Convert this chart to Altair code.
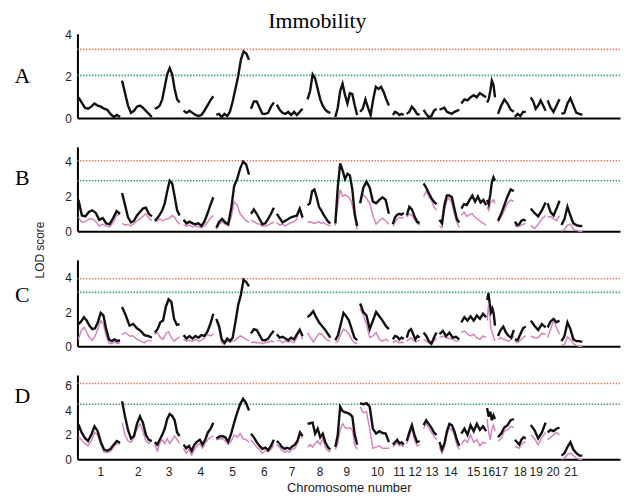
import altair as alt
import pandas as pd
import numpy as np

chrom_names = [str(i) for i in range(1, 22)]
chrom_start = [1, 45, 78, 107, 140, 175, 201, 232, 260, 285, 318, 332, 349, 365, 387, 413, 424, 441, 457, 474, 488]
chrom_end = [43, 75, 103, 137, 173, 198, 227, 255, 282, 314, 329, 345, 362, 385, 412, 421, 440, 452, 472, 486, 509]
chrom_tick = [23, 61, 92, 124, 156, 188, 216, 244, 271, 302, 324, 340, 357, 376, 399, 414, 427, 446, 462, 479, 497]

A_black = [
    [1.0, 0.75, 0.5, 0.45, 0.55, 0.7, 0.6, 0.55, 0.45, 0.4, 0.2, 0.05, 0.15, 0.05],
    [1.8, 1.2, 0.6, 0.25, 0.35, 0.55, 0.6, 0.5, 0.35, 0.2, 0.05],
    [0.45, 0.5, 0.6, 0.9, 1.5, 2.1, 2.4, 2.1, 1.4, 0.9, 0.75],
    [0.35, 0.25, 0.35, 0.25, 0.15, 0.1, 0.15, 0.35, 0.6, 0.85, 1.05],
    [0.15, 0.2, 0.05, 0.2, 0.1, 0.3, 0.8, 1.4, 2.0, 2.8, 3.2, 3.1, 2.8],
    [0.45, 0.8, 0.8, 0.5, 0.2, 0.2, 0.25, 0.55, 0.75],
    [0.65, 0.4, 0.25, 0.2, 0.3, 0.15, 0.3, 0.15, 0.3, 0.45],
    [0.9, 1.3, 2.1, 1.9, 1.4, 0.9, 0.6, 0.4, 0.3, 0.25],
    [0.05, 0.5, 1.3, 1.65, 1.1, 0.7, 1.2, 1.15, 0.6, 0.15],
    [0.3, 0.45, 0.9, 0.5, 0.15, 0.9, 1.5, 1.4, 1.5, 1.25, 0.9, 0.6],
    [0.15, 0.3, 0.25, 0.15, 0.2, 0.15],
    [0.2, 0.3, 0.55, 0.4, 0.2, 0.15],
    [0.4, 0.2, 0.05, 0.1, 0.35, 0.45],
    [0.4, 0.45, 0.5, 0.3, 0.25, 0.2, 0.3, 0.35, 0.4],
    [0.7, 0.9, 0.85, 1.0, 1.1, 1.0, 1.2, 1.1, 1.0],
    [0.75, 0.9, 1.3, 1.8, 1.6, 1.0],
    [0.2, 0.6, 0.9, 0.7, 0.4, 0.3],
    [0.05, 0.2, 0.1, 0.3, 0.3],
    [1.0, 0.8, 0.45, 0.6, 0.85, 0.6, 0.35],
    [0.85, 0.5, 0.3, 0.6, 0.9],
    [0.2, 0.25, 0.7, 0.95, 0.6, 0.25, 0.2, 0.15],
]

B_black = [
    [1.8, 0.9, 0.85, 1.1, 1.2, 1.05, 0.65, 0.75, 0.45, 0.4, 0.75, 1.15, 1.0],
    [2.2, 1.5, 0.8, 0.5, 0.6, 0.9, 1.1, 1.3, 1.35, 1.0, 0.85],
    [0.6, 0.75, 0.95, 1.2, 1.6, 2.3, 2.9, 2.75, 2.0, 1.2, 0.9],
    [0.65, 0.45, 0.55, 0.45, 0.4, 0.45, 0.3, 0.55, 1.0, 1.5, 1.95],
    [0.2, 0.55, 0.7, 0.5, 0.4, 1.3, 2.6, 3.0, 3.6, 4.0, 3.85, 3.25],
    [1.0, 1.25, 1.0, 0.7, 0.4, 0.45, 0.7, 1.0, 1.35],
    [1.0, 0.75, 0.5, 0.6, 0.7, 0.8, 0.85, 0.9, 1.3, 0.8],
    [1.5, 1.6, 2.3, 2.4, 1.95, 1.4, 1.2, 0.95, 0.75, 0.55, 0.45],
    [0.45, 2.5, 3.9, 3.5, 3.0, 3.3, 3.2, 2.4, 1.0, 0.3],
    [1.6, 2.5, 2.85, 2.5, 1.7, 1.6, 1.8, 1.95, 1.8, 1.0],
    [0.4, 0.8, 0.95, 1.0, 0.95, 1.05],
    [0.9, 1.4, 1.25, 0.85, 0.55, 0.45],
    [2.75, 2.5, 2.2, 1.9, 1.7, 1.55],
    [0.65, 0.45, 1.5, 2.05, 2.05, 1.95, 1.3, 0.7, 0.5],
    [1.3, 1.55, 1.5, 1.8, 2.05, 1.7, 2.0, 1.65, 1.8, 1.5],
    [1.8, 1.55, 2.1, 2.8, 3.1, 2.9],
    [0.6, 1.0, 1.5, 2.0, 2.4, 2.3],
    [0.55, 0.35, 0.4, 0.6, 0.65, 0.6],
    [1.3, 1.05, 0.85, 1.2, 1.65],
    [1.6, 1.1, 0.9, 1.3, 1.75],
    [0.35, 0.7, 1.4, 0.9, 0.45, 0.35, 0.3, 0.3],
]

B_pink = [
    [0.8, 0.5, 0.55, 0.7, 0.7, 0.55, 0.3, 0.4, 0.3, 0.25, 0.5, 0.9, 1.0],
    [0.45, 0.35, 0.4, 0.3, 0.45, 0.6, 0.7, 0.85, 1.0, 0.75, 0.6],
    [0.55, 0.6, 0.7, 0.6, 0.65, 0.7, 0.75, 0.9, 0.8, 0.55, 0.4],
    [0.35, 0.3, 0.35, 0.25, 0.3, 0.25, 0.2, 0.3, 0.5, 0.75, 0.9],
    [0.1, 0.4, 0.55, 0.4, 0.3, 0.8, 1.7, 1.5, 1.0, 0.8, 0.6, 0.5],
    [0.65, 0.55, 0.45, 0.4, 0.3, 0.3, 0.35, 0.45, 0.5],
    [0.5, 0.35, 0.4, 0.3, 0.4, 0.5, 0.55, 0.7, 1.4, 0.7],
    [0.5, 0.55, 0.5, 0.45, 0.5, 0.55, 0.45, 0.5, 0.4, 0.35, 0.3],
    [0.3, 1.5, 2.4, 2.0, 2.1, 2.0, 1.9, 1.5, 0.8, 0.1],
    [1.9, 2.1, 1.9, 1.6, 0.9, 0.4, 0.6, 0.75, 0.6, 0.4],
    [0.3, 0.5, 0.7, 0.8, 0.75, 0.8],
    [0.8, 1.0, 0.9, 0.7, 0.45, 0.35],
    [2.0, 2.3, 2.0, 1.8, 1.4, 1.2],
    [0.3, 0.2, 1.2, 1.8, 1.9, 1.6, 1.0, 0.5, 0.2],
    [0.9, 1.1, 0.85, 0.95, 1.0, 0.8, 0.7, 0.55, 0.45, 0.35],
    [1.4, 1.2, 1.6, 1.7, 1.8, 1.6],
    [0.5, 0.8, 1.2, 1.6, 1.8, 1.7],
    [0.35, 0.25, 0.3, 0.35, 0.4, 0.45],
    [0.35, 0.15, 0.4, 0.7, 0.9],
    [0.8, 0.85, 0.7, 0.6, 0.9],
    [0.0, 0.1, 0.35, 0.4, 0.1, 0.05, 0.0, 0.0],
]

C_black = [
    [1.3, 1.45, 1.7, 1.5, 1.2, 1.0, 1.05, 1.4, 1.95, 1.8, 1.0, 0.4, 0.3, 0.4, 0.3, 0.35],
    [2.3, 1.8, 1.2, 1.3, 1.05, 0.9, 0.65, 0.6, 0.5],
    [0.8, 1.0, 1.4, 1.5, 2.3, 2.75, 2.6, 1.6, 1.25, 1.3],
    [0.65, 0.45, 0.6, 0.45, 0.6, 0.5, 0.65, 0.6, 0.85, 1.3, 1.9],
    [1.6, 1.2, 0.4, 0.2, 0.45, 0.3, 0.5, 1.4, 2.4, 3.0, 3.9, 3.75, 3.5],
    [0.75, 1.0, 0.95, 0.65, 0.35, 0.35, 0.45, 0.7, 0.9],
    [0.7, 0.5, 0.55, 0.45, 0.35, 0.5, 0.4, 0.7, 0.95, 0.6],
    [1.7, 1.85, 2.05, 1.7, 1.4, 1.2, 1.0, 0.75, 0.5],
    [0.35, 0.65, 1.3, 1.95, 1.75, 1.5, 1.0, 0.5, 0.35],
    [2.5, 2.0, 1.8, 1.0, 1.5, 2.0, 1.75, 1.5, 1.2, 1.0],
    [0.4, 0.6, 0.55, 0.4, 0.5, 0.45],
    [0.5, 0.9, 1.0, 0.7, 0.4, 0.6, 0.5],
    [0.8, 0.6, 0.3, 0.15, 0.5, 0.8],
    [0.7, 0.9, 0.6, 0.8, 0.5, 0.55, 0.4],
    [1.4, 1.7, 1.5, 1.75, 1.5, 1.8, 1.6, 1.9, 1.7],
    [2.7, 3.1, 2.5, 2.0, 2.2, 1.9, 1.2],
    [0.6, 0.95, 1.15, 0.8, 0.6, 0.5, 0.95],
    [0.4, 0.35, 0.7, 1.05, 1.15],
    [1.5, 1.2, 0.95, 1.3, 1.1],
    [1.1, 1.45, 1.6, 1.4, 1.5],
    [0.3, 0.6, 1.4, 1.0, 0.4, 0.3, 0.3, 0.25],
]

C_pink = [
    [0.4, 0.9, 1.1, 0.8, 0.5, 0.35, 0.6, 1.0, 1.5, 1.3, 0.6, 0.2, 0.15, 0.25, 0.15, 0.2],
    [0.7, 0.8, 0.6, 0.6, 0.4, 0.3, 0.2, 0.35, 0.3],
    [0.7, 0.8, 0.5, 0.4, 0.75, 0.85, 0.5, 0.3, 0.45, 0.55],
    [0.4, 0.3, 0.35, 0.3, 0.4, 0.3, 0.35, 0.5, 0.7, 0.6, 0.7],
    [1.5, 1.0, 0.2, 0.1, 0.3, 0.25, 0.3, 0.35, 0.5, 0.6, 0.5, 0.4, 0.3],
    [0.2, 0.25, 0.2, 0.2, 0.15, 0.2, 0.25, 0.3, 0.25],
    [0.3, 0.35, 0.2, 0.3, 0.25, 0.3, 0.2, 0.5, 1.0, 0.4],
    [0.8, 0.5, 0.25, 0.5, 0.75, 0.7, 0.5, 0.35, 0.3],
    [0.2, 0.3, 0.7, 1.0, 0.9, 0.7, 0.4, 0.2, 0.15],
    [2.2, 1.8, 1.3, 0.5, 0.6, 0.8, 0.4, 0.3, 0.4, 0.3],
    [0.2, 0.3, 0.3, 0.2, 0.25, 0.2],
    [0.3, 0.4, 0.5, 0.35, 0.25, 0.3, 0.35],
    [0.4, 0.3, 0.2, 0.1, 0.3, 0.5],
    [0.5, 0.6, 0.5, 0.45, 0.4, 0.3, 0.35],
    [0.8, 0.9, 0.7, 0.6, 0.7, 0.5, 0.4, 0.6, 0.5],
    [1.5, 2.4, 1.8, 1.0, 0.8, 0.5, 0.3],
    [0.4, 0.5, 0.4, 0.35, 0.3, 0.4, 0.6],
    [0.3, 0.2, 0.35, 0.5, 0.6],
    [0.6, 0.5, 0.5, 0.75, 0.7],
    [0.5, 1.0, 1.5, 1.1, 0.7],
    [0.05, 0.1, 0.55, 0.4, 0.15, 0.05, 0.0, 0.0],
]

D_black = [
    [2.85, 2.2, 1.75, 1.5, 2.0, 2.7, 2.3, 1.4, 0.8, 0.7, 0.85, 1.2, 1.5, 1.35],
    [4.75, 3.5, 2.4, 1.7, 1.9, 2.9, 3.5, 3.0, 2.0, 1.6, 1.5],
    [1.4, 1.2, 1.6, 2.0, 2.5, 3.3, 3.7, 3.55, 3.2, 2.2, 1.9],
    [1.2, 0.9, 1.1, 0.7, 1.2, 1.45, 1.6, 1.2, 1.6, 2.2, 2.5, 3.0],
    [1.7, 1.85, 1.9, 1.8, 1.45, 2.1, 3.0, 3.8, 4.5, 4.95, 4.6, 4.0],
    [2.1, 1.8, 1.4, 1.1, 0.85, 0.95, 0.75, 1.1, 1.6],
    [1.5, 1.3, 1.0, 0.85, 0.95, 0.85, 1.05, 1.2, 1.5, 2.2, 1.9],
    [2.9, 2.95, 3.0, 2.1, 2.5, 1.8, 2.1, 1.4, 1.0, 0.8],
    [1.0, 2.0, 4.3, 3.95, 3.85, 3.8, 3.7, 3.5, 2.0, 1.2],
    [4.6, 4.5, 4.6, 4.3, 2.5, 2.1, 2.3, 2.15, 2.1, 1.4],
    [1.2, 1.4, 1.6, 1.3, 1.4, 1.2],
    [1.5, 2.2, 2.8, 2.0, 1.4, 1.5],
    [2.8, 3.2, 2.9, 2.6, 2.2, 2.0],
    [1.4, 0.8, 1.3, 2.3, 2.9, 2.8, 2.3, 1.6, 1.1],
    [2.1, 2.5, 2.0, 2.8, 2.3, 2.9, 2.4, 2.7, 2.3],
    [4.2, 3.5, 3.9, 3.2, 3.6, 3.3],
    [1.8, 2.1, 2.6, 2.8, 3.2, 3.3],
    [1.6, 1.4, 1.2, 1.6, 1.8, 1.7],
    [2.8, 2.4, 1.7, 2.2, 3.0],
    [2.2, 2.4, 2.3, 2.5, 2.6],
    [0.3, 0.5, 1.0, 1.4, 0.8, 0.5, 0.3, 0.3],
]

D_pink = [
    [1.8, 1.6, 1.3, 1.1, 1.5, 2.2, 2.0, 1.2, 0.6, 0.55, 0.65, 1.0, 1.3, 1.2],
    [3.0, 2.0, 1.5, 1.4, 1.8, 2.5, 2.9, 2.3, 1.5, 1.3, 1.6],
    [1.2, 0.7, 1.3, 1.6, 1.3, 1.7, 1.3, 1.6, 1.9, 1.6, 1.3],
    [0.9, 0.5, 0.8, 0.35, 0.8, 1.1, 1.3, 0.9, 1.3, 1.6, 1.8, 1.9],
    [1.6, 1.65, 1.7, 1.5, 1.2, 1.5, 2.0, 1.8, 2.1, 1.7, 1.6, 1.4],
    [1.6, 1.3, 1.0, 0.8, 0.5, 0.7, 0.6, 0.8, 1.2],
    [1.2, 1.0, 0.7, 0.6, 0.7, 0.6, 0.8, 0.9, 1.3, 2.1, 1.7],
    [1.0, 1.2, 1.0, 1.3, 1.5, 1.2, 1.7, 1.0, 0.7, 0.6],
    [0.8, 1.3, 2.4, 2.9, 2.6, 2.5, 2.6, 2.4, 1.2, 0.8],
    [4.3, 3.8, 3.9, 2.5, 0.9, 1.0, 1.1, 0.9, 0.9, 0.9],
    [1.0, 1.2, 1.4, 1.1, 1.2, 1.0],
    [1.3, 1.9, 2.5, 1.6, 1.1, 1.2],
    [2.5, 3.0, 2.6, 2.2, 1.9, 1.6],
    [1.0, 0.5, 1.0, 2.0, 2.6, 2.4, 2.0, 1.2, 0.8],
    [1.2, 1.6, 1.4, 2.0, 1.4, 1.6, 1.1, 1.4, 1.3],
    [3.3, 2.2, 1.6, 2.5, 2.8, 2.3],
    [1.5, 1.7, 2.3, 2.4, 2.7, 2.6],
    [1.0, 1.0, 0.9, 1.2, 1.4, 1.4],
    [2.0, 1.7, 1.2, 1.8, 2.2],
    [1.6, 1.8, 2.0, 2.2, 2.0],
    [0.0, 0.1, 0.4, 0.5, 0.3, 0.1, 0.0, 0.0],
]

thresholds = {"A": (3.3, 2.05), "B": (4.05, 2.9), "C": (3.95, 3.15), "D": (6.2, 4.5)}

BLACK = "#111111"
PINK = "#d684be"
RED = "#f27a5e"
GREEN = "#3aa084"
SANS = "Liberation Sans"
SERIF = "Liberation Serif"


def build(series_lists):
    rows = []
    for ci, vals in enumerate(series_lists):
        xs = np.linspace(chrom_start[ci], chrom_end[ci], len(vals))
        for x, v in zip(xs, vals):
            rows.append({"pos": float(x), "lod": v, "chrom": chrom_names[ci]})
    return pd.DataFrame(rows)


label_expr = "[" + ",".join("'%s'" % n for n in chrom_names) + "][indexof([" + ",".join(str(t) for t in chrom_tick) + "], datum.value)]"


def panel(letter, black, pink, ymax, ticks, height, title_y, show_x=False, extra=None):
    if show_x:
        xaxis = alt.Axis(values=chrom_tick, labelExpr=label_expr, title="Chromosome number",
                         ticks=False, grid=False, labelOverlap=False, labelFlush=False,
                         labelFont=SANS, labelFontSize=12, labelColor="#222",
                         labelPadding=7, titleFont=SANS, titleFontSize=13,
                         titleFontWeight="normal", titleColor="#222", titlePadding=4,
                         domainColor="black", domainWidth=2)
    else:
        xaxis = alt.Axis(labels=False, ticks=False, title=None, grid=False,
                         domainColor="black", domainWidth=2)
    x = alt.X("pos:Q", scale=alt.Scale(domain=[0, 547], nice=False, zero=False), axis=xaxis)
    y = alt.Y("lod:Q", scale=alt.Scale(domain=[0, ymax], nice=False),
              axis=alt.Axis(values=ticks, title=letter, titleAngle=0, titleX=-56, titleY=title_y,
                            titleAlign="center", titleBaseline="middle", titleFont=SERIF,
                            titleFontSize=22, titleFontWeight="normal", titleColor="black",
                            ticks=False, grid=False, labelPadding=6, labelFont=SANS,
                            labelFontSize=12, labelColor="#222", domainColor="black",
                            domainWidth=2, format="d"))
    red, green = thresholds[letter]
    thr = pd.DataFrame({"lod": [red, green], "kind": ["red", "green"]})
    layers = [
        alt.Chart(thr).mark_rule(strokeDash=[1.5, 1.5], strokeWidth=1.6).encode(
            y=y,
            color=alt.Color("kind:N", scale=alt.Scale(domain=["red", "green"], range=[RED, GREEN]), legend=None),
        )
    ]
    if pink is not None:
        layers.append(alt.Chart(build(pink)).mark_line(color=PINK, strokeWidth=1.5).encode(
            x=x, y=y, detail="chrom:N"))
    layers.append(alt.Chart(build(black)).mark_line(color=BLACK, strokeWidth=2.4).encode(
        x=x, y=y, detail="chrom:N"))
    if extra is not None:
        layers.append(extra)
    return alt.layer(*layers).properties(width=547, height=height)


lod_label = alt.Chart(pd.DataFrame({"t": ["LOD score"]})).mark_text(
    angle=270, font=SANS, fontSize=12, color="#222", align="center", baseline="middle"
).encode(text="t:N", x=alt.value(-38), y=alt.value(104))

pA = panel("A", A_black, None, 4.05, [0, 2, 4], 85, 42)
pB = panel("B", B_black, B_pink, 4.85, [0, 2, 4], 85, 31, extra=lod_label)
pC = panel("C", C_black, C_pink, 5.05, [0, 2, 4], 87, 35)
pD = panel("D", D_black, D_pink, 6.9, [0, 2, 4, 6], 85, 21, show_x=True)

chart = alt.vconcat(pA, pB, pC, pD, spacing=29, bounds="flush").properties(
    title=alt.TitleParams("Immobility", font=SERIF, fontSize=22, fontWeight="normal",
                          color="black", anchor="middle", offset=-4),
    padding={"left": 6, "top": 0, "right": 0, "bottom": 0},
).configure_view(stroke=None).resolve_scale(color="independent")

chart.save("out.html", embed_options={"renderer": "svg", "actions": False})
